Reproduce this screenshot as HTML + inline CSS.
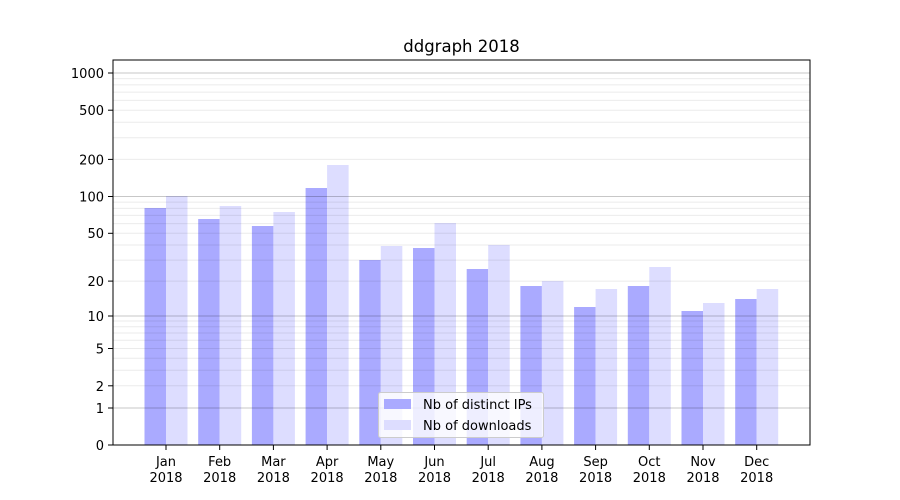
<!DOCTYPE html>
<html><head><meta charset="utf-8"><style>
html,body{margin:0;padding:0;background:#fff;}
svg{display:block;font-family:"DejaVu Sans","Liberation Sans",sans-serif;}
</style></head><body>
<svg width="900" height="500" viewBox="0 0 900 500" xmlns="http://www.w3.org/2000/svg">
<rect width="900" height="500" fill="#fff"/>
<text x="461.5" y="52" font-size="16.5" text-anchor="middle" fill="#000">ddgraph 2018</text>
<g>
<!-- bars: centers 166+53.7*i -->
<g fill="#aaaaff">
<rect x="144.5" y="208" width="21.5" height="237"/>
<rect x="198.2" y="219" width="21.5" height="226"/>
<rect x="251.9" y="226" width="21.5" height="219"/>
<rect x="305.6" y="188" width="21.5" height="257"/>
<rect x="359.3" y="260" width="21.5" height="185"/>
<rect x="413.0" y="248" width="21.5" height="197"/>
<rect x="466.7" y="269" width="21.5" height="176"/>
<rect x="520.4" y="286" width="21.5" height="159"/>
<rect x="574.1" y="307" width="21.5" height="138"/>
<rect x="627.8" y="286" width="21.5" height="159"/>
<rect x="681.5" y="311" width="21.5" height="134"/>
<rect x="735.2" y="299" width="21.5" height="146"/>
</g>
<g fill="#ddddff">
<rect x="166" y="196" width="21.5" height="249"/>
<rect x="219.7" y="206" width="21.5" height="239"/>
<rect x="273.4" y="212" width="21.5" height="233"/>
<rect x="327.1" y="165" width="21.5" height="280"/>
<rect x="380.8" y="246" width="21.5" height="199"/>
<rect x="434.5" y="223" width="21.5" height="222"/>
<rect x="488.2" y="245" width="21.5" height="200"/>
<rect x="541.9" y="281" width="21.5" height="164"/>
<rect x="595.6" y="289" width="21.5" height="156"/>
<rect x="649.3" y="267" width="21.5" height="178"/>
<rect x="703.0" y="303" width="21.5" height="142"/>
<rect x="756.7" y="289" width="21.5" height="156"/>
</g>
</g>
<!-- minor grid -->
<g stroke="#000" stroke-opacity="0.08" stroke-width="1">
<line x1="113" x2="810" y1="385.8" y2="385.8"/><line x1="113" x2="810" y1="370.3" y2="370.3"/>
<line x1="113" x2="810" y1="358.3" y2="358.3"/><line x1="113" x2="810" y1="348.5" y2="348.5"/>
<line x1="113" x2="810" y1="340.2" y2="340.2"/><line x1="113" x2="810" y1="333" y2="333"/>
<line x1="113" x2="810" y1="326.7" y2="326.7"/><line x1="113" x2="810" y1="321" y2="321"/>
<line x1="113" x2="810" y1="281.1" y2="281.1"/><line x1="113" x2="810" y1="260.1" y2="260.1"/>
<line x1="113" x2="810" y1="245" y2="245"/><line x1="113" x2="810" y1="233.3" y2="233.3"/>
<line x1="113" x2="810" y1="223.6" y2="223.6"/><line x1="113" x2="810" y1="215.4" y2="215.4"/>
<line x1="113" x2="810" y1="208.4" y2="208.4"/><line x1="113" x2="810" y1="202.1" y2="202.1"/>
<line x1="113" x2="810" y1="159.4" y2="159.4"/><line x1="113" x2="810" y1="137.7" y2="137.7"/>
<line x1="113" x2="810" y1="122.2" y2="122.2"/><line x1="113" x2="810" y1="110.2" y2="110.2"/>
<line x1="113" x2="810" y1="100.4" y2="100.4"/><line x1="113" x2="810" y1="92.1" y2="92.1"/>
<line x1="113" x2="810" y1="84.9" y2="84.9"/><line x1="113" x2="810" y1="78.6" y2="78.6"/>
</g>
<!-- major grid -->
<g stroke="#000" stroke-opacity="0.22" stroke-width="1">
<line x1="113" x2="810" y1="408" y2="408"/>
<line x1="113" x2="810" y1="316" y2="316"/>
<line x1="113" x2="810" y1="196.5" y2="196.5"/>
<line x1="113" x2="810" y1="73" y2="73"/>
</g>
<!-- axes -->
<rect x="113" y="60" width="697" height="385" fill="none" stroke="#000" stroke-width="1"/>
<g stroke="#000" stroke-width="1">
<line x1="108" x2="113" y1="445" y2="445"/><line x1="108" x2="113" y1="408" y2="408"/>
<line x1="108" x2="113" y1="385.8" y2="385.8"/><line x1="108" x2="113" y1="348.5" y2="348.5"/>
<line x1="108" x2="113" y1="316" y2="316"/><line x1="108" x2="113" y1="281.1" y2="281.1"/>
<line x1="108" x2="113" y1="233.3" y2="233.3"/><line x1="108" x2="113" y1="196.5" y2="196.5"/>
<line x1="108" x2="113" y1="159.4" y2="159.4"/><line x1="108" x2="113" y1="110.2" y2="110.2"/>
<line x1="108" x2="113" y1="73" y2="73"/>
</g>
<g font-size="13" text-anchor="end" fill="#000">
<text x="104" y="450">0</text><text x="104" y="413">1</text><text x="104" y="391">2</text>
<text x="104" y="353.5">5</text><text x="104" y="321">10</text><text x="104" y="286">20</text>
<text x="104" y="238">50</text><text x="104" y="201.5">100</text><text x="104" y="164.5">200</text>
<text x="104" y="115">500</text><text x="104" y="78">1000</text>
</g>
<g stroke="#000" stroke-width="1">
<line x1="166" x2="166" y1="445" y2="450"/><line x1="219.7" x2="219.7" y1="445" y2="450"/>
<line x1="273.4" x2="273.4" y1="445" y2="450"/><line x1="327.1" x2="327.1" y1="445" y2="450"/>
<line x1="380.8" x2="380.8" y1="445" y2="450"/><line x1="434.5" x2="434.5" y1="445" y2="450"/>
<line x1="488.2" x2="488.2" y1="445" y2="450"/><line x1="541.9" x2="541.9" y1="445" y2="450"/>
<line x1="595.6" x2="595.6" y1="445" y2="450"/><line x1="649.3" x2="649.3" y1="445" y2="450"/>
<line x1="703" x2="703" y1="445" y2="450"/><line x1="756.7" x2="756.7" y1="445" y2="450"/>
</g>
<g font-size="13" text-anchor="middle" fill="#000">
<text x="166" y="466">Jan</text><text x="166" y="482">2018</text>
<text x="219.7" y="466">Feb</text><text x="219.7" y="482">2018</text>
<text x="273.4" y="466">Mar</text><text x="273.4" y="482">2018</text>
<text x="327.1" y="466">Apr</text><text x="327.1" y="482">2018</text>
<text x="380.8" y="466">May</text><text x="380.8" y="482">2018</text>
<text x="434.5" y="466">Jun</text><text x="434.5" y="482">2018</text>
<text x="488.2" y="466">Jul</text><text x="488.2" y="482">2018</text>
<text x="541.9" y="466">Aug</text><text x="541.9" y="482">2018</text>
<text x="595.6" y="466">Sep</text><text x="595.6" y="482">2018</text>
<text x="649.3" y="466">Oct</text><text x="649.3" y="482">2018</text>
<text x="703" y="466">Nov</text><text x="703" y="482">2018</text>
<text x="756.7" y="466">Dec</text><text x="756.7" y="482">2018</text>
</g>
<!-- legend -->
<rect x="378.5" y="392.5" width="165" height="45" rx="2" fill="#fff" fill-opacity="0.8" stroke="#ccc" stroke-width="1"/>
<rect x="384" y="399" width="27" height="10" fill="#aaaaff"/>
<rect x="384" y="420" width="27" height="10" fill="#ddddff"/>
<g font-size="13" fill="#000">
<text x="423" y="409">Nb of distinct IPs</text>
<text x="423" y="430">Nb of downloads</text>
</g>
</svg>
</body></html>
